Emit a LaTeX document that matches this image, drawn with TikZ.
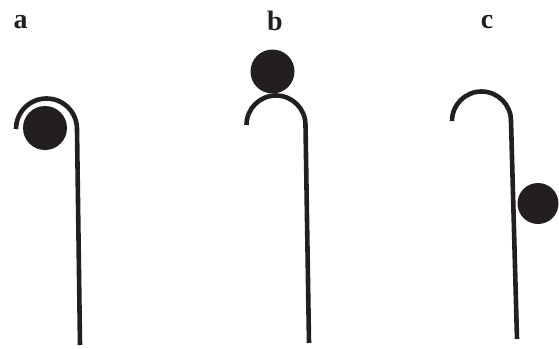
\documentclass[tikz,border=0pt]{standalone}
\usepackage{fontspec}
\setmainfont{Liberation Serif}
\definecolor{ink}{HTML}{231F20}
\begin{document}
\begin{tikzpicture}[x=1pt,y=-1pt,
  hook/.style={draw=ink,line width=4.6pt,line cap=butt},
  ball/.style={fill=ink},
  lab/.style={font=\fontsize{28}{28}\selectfont\bfseries,text=ink,inner sep=0pt}]
\useasboundingbox (0,0) rectangle (559,348);
% labels
\node[lab] (la) at (20.5,22) {a};
\node[lab] (lb) at (275,21) {b};
\node[lab] (lc) at (487,22) {c};
% panel a
\coordinate (aL) at (16,129);
\coordinate (aB) at (80,345);
\draw[hook] (aL) arc[start angle=180,end angle=360,radius=30.5] -- (aB);
\fill[ball] (45,128) circle[radius=22];
% panel b
\coordinate (bL) at (246.5,125);
\coordinate (bB) at (309,343);
\draw[hook] (bL) arc[start angle=180,end angle=360,radius=29.5] -- (bB);
\fill[ball] (272.5,71.5) circle[radius=22];
% panel c
\coordinate (cL) at (452,121);
\coordinate (cB) at (517,339);
\draw[hook] (cL) arc[start angle=180,end angle=360,radius=29.5] -- (cB);
\fill[ball] (538,203.5) circle[radius=20.5];
\end{tikzpicture}
\end{document}
